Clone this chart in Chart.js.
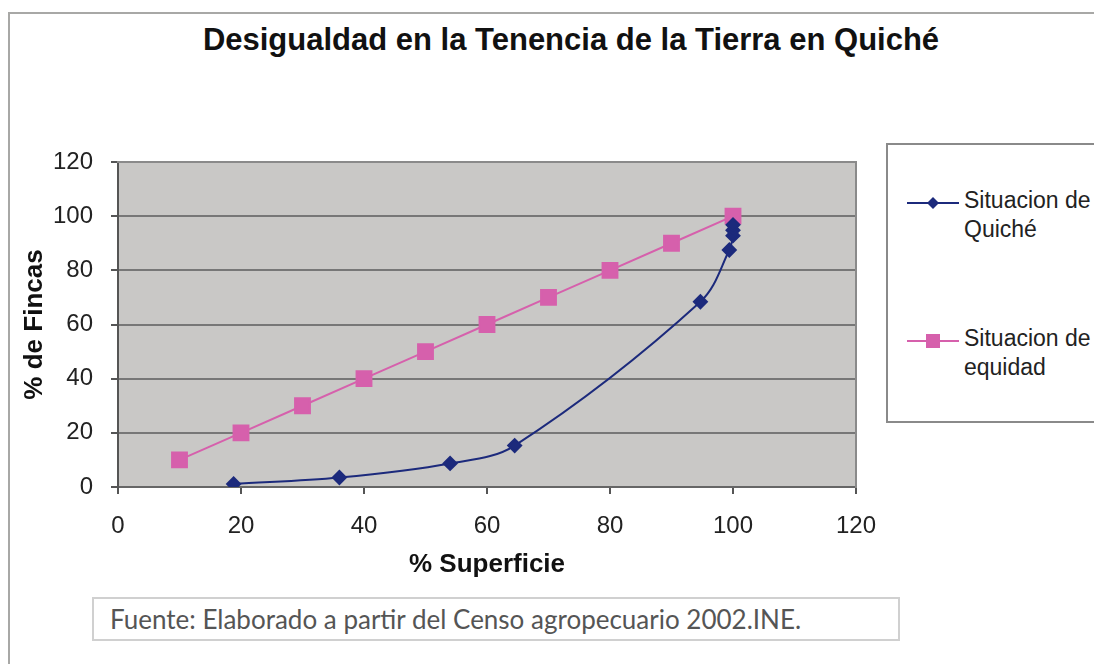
<!DOCTYPE html>
<html>
<head>
<meta charset="utf-8">
<script src="https://cdn.jsdelivr.net/npm/chart.js@4/dist/chart.umd.min.js"></script>
<style>
  body { margin: 0; background: #fff; }
  #wrap { position: relative; width: 1094px; height: 664px; overflow: hidden; }
  #frame { position: absolute; left: 8px; top: 12px; width: 1200px; height: 800px; border: 2px solid #a8a8a6; }
  #title { position: absolute; left: 0; width: 1142px; top: 20px; text-align: center; font-family: "Liberation Sans", Arial, sans-serif;
    font-weight: bold; font-size: 31px; line-height: 40px; color: #111; }
  #legend { position: absolute; left: 886px; top: 143px; width: 300px; height: 276px; border: 2px solid #8a8a8a; background: #fff;
    font-family: "Liberation Sans", Arial, sans-serif; font-size: 23px; color: #222; }
  .item { position: absolute; left: 19px; display: flex; align-items: flex-start; line-height: 29px; }
  .item canvas { flex-shrink: 0; width: 52px; height: 16px; margin-top: 9px; }
  .item span { margin-left: 5px; }
  #source { position: absolute; left: 92px; top: 597px; width: 808px; height: 44px; border: 2px solid #d0d0d0; background: #fff;
    font-family: Lato, "Open Sans", sans-serif; font-size: 26px; color: #555; line-height: 40px; padding-left: 16px; box-sizing: border-box; }
  #c { position: absolute; left: 0; top: 0; }
</style>
</head>
<body>
<div id="wrap">
  <div id="frame"></div>
  <div id="title">Desigualdad en la Tenencia de la Tierra en Quiché</div>
  <canvas id="c" width="1094" height="664"></canvas>
  <div id="legend">
    <div class="item" style="top:41px"><canvas id="lg1" width="52" height="16"></canvas><span>Situacion de<br>Quiché</span></div>
    <div class="item" style="top:179px"><canvas id="lg2" width="52" height="16"></canvas><span>Situacion de<br>equidad</span></div>
  </div>
  <div id="source">Fuente: Elaborado a partir del Censo agropecuario 2002.INE.</div>
</div>
<script>
const quicheX = [18.8, 36, 54, 64.5, 94.7, 99.4, 100, 100, 100];
const quicheY = [1.1, 3.5, 8.7, 15.3, 68.4, 87.5, 92.8, 94.8, 96.8];
const equidadX = [10, 20, 30, 40, 50, 60, 70, 80, 90, 100];
const equidadY = [10, 20, 30, 40, 50, 60, 70, 80, 90, 100];
const xTicks = [0, 20, 40, 60, 80, 100, 120];
const yTicks = [0, 20, 40, 60, 80, 100, 120];

const navy = "#1c2a7c";
const pink = "#d660ac";
const font = "'Liberation Sans', Arial, sans-serif";

function pts(xs, ys) {
  return xs.map((x, i) => ({ x: x, y: ys[i] }));
}

// gray plot background
const plotBg = {
  id: "plotBg",
  beforeDraw(chart) {
    const { ctx, chartArea: a } = chart;
    ctx.save();
    ctx.fillStyle = "#c9c8c6";
    ctx.fillRect(a.left, a.top, a.right - a.left, a.bottom - a.top);
    ctx.restore();
  }
};

const ctx = document.getElementById("c").getContext("2d");
new Chart(ctx, {
  type: "scatter",
  data: {
    datasets: [
      { label: "Situacion de Quiché", data: pts(quicheX, quicheY), showLine: true, borderColor: navy, backgroundColor: navy,
        borderWidth: 2, pointStyle: "rectRot", pointRadius: 6.5, pointHoverRadius: 6.5, tension: 0.35 },
      { label: "Situacion de equidad", data: pts(equidadX, equidadY), showLine: true, borderColor: pink, backgroundColor: pink,
        borderWidth: 2, pointStyle: "rect", pointRadius: 10.5, pointHoverRadius: 10.5, tension: 0 }
    ]
  },
  options: {
    responsive: false,
    animation: false,
    layout: { padding: { left: 19, right: 238, top: 162, bottom: 84 } },
    plugins: {
      legend: { display: false },
      tooltip: { enabled: false },
      title: { display: false }
    },
    scales: {
      x: {
        type: "linear", min: 0, max: 120,
        afterBuildTicks: s => { s.ticks = xTicks.map(v => ({ value: v })); },
        afterFit: s => { s.height = 93; },
        ticks: { color: "#222", font: { family: font, size: 24 }, padding: 18 },
        grid: { display: true, drawOnChartArea: false, tickLength: 7, tickColor: "#555", lineWidth: 2 },
        border: { color: "#666", width: 2 },
        title: { display: true, text: "% Superficie", color: "#111", font: { family: font, size: 26, weight: "bold" }, padding: 0 }
      },
      y: {
        type: "linear", min: 0, max: 120,
        afterBuildTicks: s => { s.ticks = yTicks.map(v => ({ value: v })); },
        afterFit: s => { s.width = 99; },
        ticks: { color: "#222", font: { family: font, size: 24 }, padding: 18 },
        grid: { color: "#777", lineWidth: 2, tickLength: 7, tickColor: "#555" },
        border: { color: "#555", width: 2 },
        title: { display: true, text: "% de Fincas", color: "#111", font: { family: font, size: 26, weight: "bold" }, padding: 0 }
      },
      x2: {
        type: "linear", position: "top", min: 0, max: 120, display: true,
        ticks: { display: false }, grid: { display: false }, border: { color: "#8a8a8a", width: 2 },
        afterFit: s => { s.height = 0; }
      },
      y2: {
        type: "linear", position: "right", min: 0, max: 120, display: true,
        ticks: { display: false }, grid: { display: false }, border: { color: "#8a8a8a", width: 2 },
        afterFit: s => { s.width = 0; }
      }
    }
  },
  plugins: [plotBg]
});

function legendMark(id, color, shape) {
  const c = document.getElementById(id).getContext("2d");
  c.strokeStyle = color;
  c.fillStyle = color;
  c.lineWidth = 2;
  c.beginPath(); c.moveTo(0, 8); c.lineTo(52, 8); c.stroke();
  if (shape === "diamond") {
    c.beginPath(); c.moveTo(26, 2); c.lineTo(32, 8); c.lineTo(26, 14); c.lineTo(20, 8); c.closePath(); c.fill();
  } else {
    c.fillRect(19, 1, 14, 14);
  }
}
legendMark("lg1", navy, "diamond");
legendMark("lg2", pink, "rect");
</script>
</body>
</html>
